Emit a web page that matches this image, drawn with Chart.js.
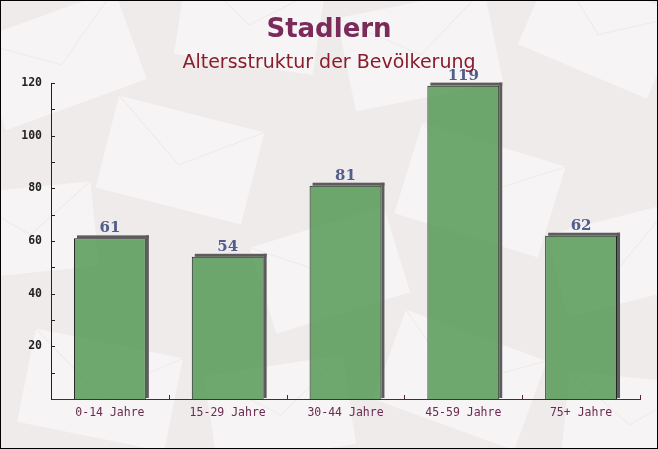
<!DOCTYPE html>
<html>
<head>
<meta charset="utf-8">
<script src="https://cdn.jsdelivr.net/npm/chart.js@4"></script>
<style>
  body { margin: 0; background: #fff; }
  canvas { display: block; }
</style>
</head>
<body>
<canvas id="chart" width="658" height="449"></canvas>
<script>
// data
const ageGroups = ["0-14 Jahre", "15-29 Jahre", "30-44 Jahre", "45-59 Jahre", "75+ Jahre"];
const residents = [61, 54, 81, 119, 62];
const yMax = 120;
const yStep = 10;

const titleText = "Stadlern";
const subtitleText = "Altersstruktur der Bevölkerung";

// faint envelope shapes in the background (decoration only)
const envelopes = [
  [60, 60, 150, 95, -0.35], [250, 20, 140, 90, 0.15], [420, 50, 150, 95, -0.2],
  [600, 30, 140, 90, 0.4], [30, 230, 130, 85, -0.1], [180, 160, 150, 95, 0.25],
  [330, 270, 140, 90, -0.3], [480, 190, 150, 95, 0.3], [620, 260, 130, 85, -0.25],
  [100, 390, 150, 95, 0.2], [280, 410, 140, 90, -0.15], [460, 380, 150, 95, 0.35],
  [630, 420, 130, 85, 0.1]
];

const backdrop = {
  id: "backdrop",
  beforeDraw(chart) {
    const c = chart.ctx;
    c.save();
    c.fillStyle = "#efebeb";
    c.fillRect(0, 0, chart.width, chart.height);
    envelopes.forEach(e => {
      c.save();
      c.translate(e[0], e[1]);
      c.rotate(e[4]);
      c.fillStyle = "rgba(255,255,255,0.45)";
      c.fillRect(-e[2] / 2, -e[3] / 2, e[2], e[3]);
      c.strokeStyle = "rgba(225,218,218,0.35)";
      c.beginPath();
      c.moveTo(-e[2] / 2, -e[3] / 2);
      c.lineTo(0, 5);
      c.lineTo(e[2] / 2, -e[3] / 2);
      c.stroke();
      c.restore();
    });
    c.restore();
  },
  afterDraw(chart) {
    const c = chart.ctx;
    c.save();
    c.textAlign = "center";
    c.textBaseline = "middle";
    c.fillStyle = "#7a2b59";
    c.font = "bold 26px 'DejaVu Sans'";
    c.fillText(titleText, chart.width / 2, 30);
    c.fillStyle = "#8a1c2c";
    c.font = "19px 'DejaVu Sans'";
    c.fillText(subtitleText, chart.width / 2, 63);
    c.strokeStyle = "#000";
    c.lineWidth = 1;
    c.strokeRect(0.5, 0.5, chart.width - 1, chart.height - 1);
    c.restore();
  }
};

// dark offset edge on top and right of every bar, then the value above it
const barShadow = {
  id: "barShadow",
  beforeDatasetsDraw(chart) {
    const c = chart.ctx;
    const meta = chart.getDatasetMeta(0);
    c.save();
    c.fillStyle = "#5c5c5c";
    meta.data.forEach(bar => {
      const p = bar.getProps(["x", "y", "base", "width"], true);
      const l = p.x - p.width / 2, r = p.x + p.width / 2;
      c.fillRect(l + 3, p.y - 3, p.width, 3);
      c.fillRect(r, p.y - 3, 3, p.base - p.y + 2);
    });
    c.restore();
  },
  afterDatasetsDraw(chart) {
    const c = chart.ctx;
    const meta = chart.getDatasetMeta(0);
    c.save();
    c.textAlign = "center";
    c.textBaseline = "alphabetic";
    c.font = "bold 15px 'DejaVu Serif'";
    c.fillStyle = "#515d8c";
    meta.data.forEach((bar, i) => {
      c.fillText(residents[i], bar.x, bar.y - 6);
    });
    c.restore();
  }
};

// short tick marks pointing into the plot
const innerTicks = {
  id: "innerTicks",
  afterDraw(chart) {
    const c = chart.ctx;
    const ys = chart.scales.y, xs = chart.scales.x;
    const area = chart.chartArea;
    c.save();
    c.lineWidth = 1;
    c.strokeStyle = "#222";
    ys.ticks.forEach(t => {
      if (t.value === 0) return;
      const py = Math.round(ys.getPixelForValue(t.value)) + 0.5;
      c.beginPath();
      c.moveTo(area.left, py);
      c.lineTo(area.left + 4, py);
      c.stroke();
    });
    c.strokeStyle = "#5a2044";
    for (let i = 1; i <= ageGroups.length; i++) {
      const px = Math.round(xs.getPixelForValue(i - 0.5)) + 0.5;
      c.beginPath();
      c.moveTo(px, area.bottom);
      c.lineTo(px, area.bottom - 4);
      c.stroke();
    }
    c.restore();
  }
};

new Chart(document.getElementById("chart"), {
  type: "bar",
  data: {
    labels: ageGroups,
    datasets: [{
      data: residents,
      backgroundColor: "rgba(86,154,86,0.85)",
      borderColor: "#222",
      borderWidth: 1,
      barPercentage: 0.61,
      categoryPercentage: 1
    }]
  },
  options: {
    responsive: false,
    animation: false,
    layout: { padding: { top: 83, right: 18, left: 0, bottom: 0 } },
    plugins: {
      legend: { display: false },
      title: { display: false },
      tooltip: { enabled: false }
    },
    scales: {
      x: {
        afterFit(scale) { scale.height = 50; },
        grid: { display: false, drawTicks: false },
        border: { display: true, color: "#5a2044", width: 1 },
        ticks: {
          padding: 7,
          color: "#6b2a52",
          font: { family: "'DejaVu Sans Mono'", size: 11.5 }
        }
      },
      y: {
        min: 0,
        max: yMax,
        afterFit(scale) { scale.width = 51; },
        grid: { display: false, drawTicks: false },
        border: { display: true, color: "#222", width: 1 },
        ticks: {
          stepSize: yStep,
          autoSkip: false,
          padding: 9,
          color: "#222",
          font: { family: "'DejaVu Sans Mono'", size: 11.5, weight: "bold" },
          callback: v => (v % 20 === 0 && v > 0) ? v : ""
        }
      }
    }
  },
  plugins: [backdrop, barShadow, innerTicks]
});
</script>
</body>
</html>
